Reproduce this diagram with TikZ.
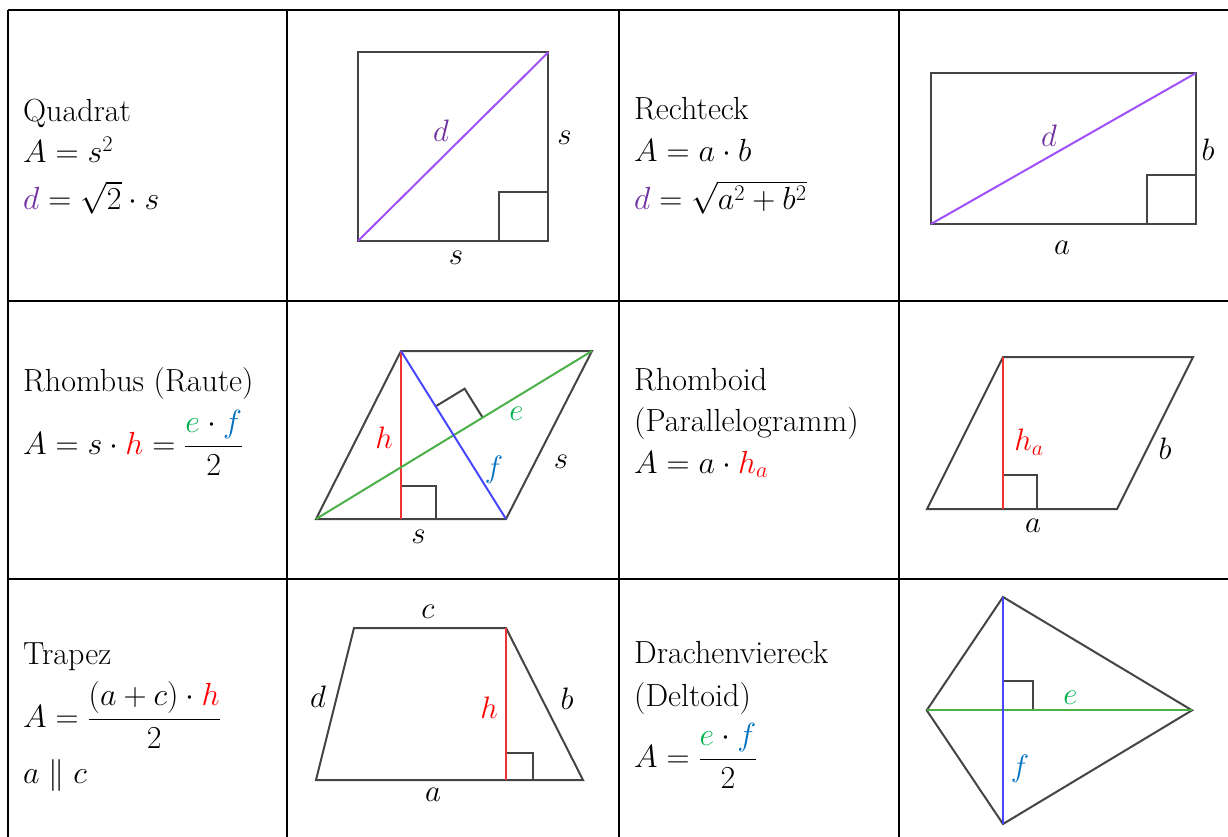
\RequirePackage{fix-cm}
\documentclass[tikz,border=0pt]{standalone}
\usepackage{amsmath}
\definecolor{shp}{RGB}{68,68,68}
\definecolor{purpL}{RGB}{160,80,250}
\definecolor{purpT}{RGB}{112,48,160}
\definecolor{redC}{RGB}{255,0,0}
\definecolor{redL}{RGB}{240,50,50}
\definecolor{grnL}{RGB}{76,176,72}
\definecolor{grnT}{RGB}{0,176,80}
\definecolor{bluL}{RGB}{70,70,255}
\definecolor{bluT}{RGB}{0,112,192}
\tikzset{
  tabline/.style={line width=2.4pt, black},
  shpline/.style={line width=2pt, shp, line join=miter},
  colline/.style={line width=2pt},
  txt/.style={anchor=base west, inner sep=0pt, font=\fontsize{32}{38}\selectfont},
  lbl/.style={inner sep=0pt, font=\fontsize{31}{36}\selectfont},
}
\begin{document}
\begin{tikzpicture}[x=1pt,y=-1pt]
\useasboundingbox (0,0) rectangle (1228,837);
\begin{scope}
\clip (0,0) rectangle (1228,837);
% table grid
\draw[tabline] (8,10) -- (1240,10);
\draw[tabline] (8,301) -- (1240,301);
\draw[tabline] (8,579) -- (1240,579);
\draw[tabline] (8,10) -- (8,850);
\draw[tabline] (287,10) -- (287,850);
\draw[tabline] (619,10) -- (619,850);
\draw[tabline] (899,10) -- (899,850);
\end{scope}

% ---------- Row 1 ----------
\node[txt] (t1a) at (23,121.7) {Quadrat};
\node[txt] (t1b) at (23,163) {$A=s^2$};
\node[txt] (t1c) at (23,210) {${\color{purpT}d}=\sqrt{2}\cdot s$};

\coordinate (qA) at (358.3,240.7);
\coordinate (qB) at (548.3,240.7);
\coordinate (qC) at (548.3,52.3);
\coordinate (qD) at (358.3,52.3);
\draw[shpline] (qA) -- (qB) -- (qC) -- (qD) -- cycle;
\draw[shpline] (499,240.7) rectangle (548.3,192.3);
\draw[colline, purpL] (qA) -- (qC);
\node[lbl] (qd) at (441,131) {$\color{purpT}d$};
\node[lbl] (qs1) at (564.5,138) {$s$};
\node[lbl] (qs2) at (456,258) {$s$};

\node[txt] (t2a) at (634,120) {Rechteck};
\node[txt] (t2b) at (634,162) {$A=a\cdot b$};
\node[txt] (t2c) at (634,210) {${\color{purpT}d}=\sqrt{a^2+b^2}$};

\coordinate (rA) at (931,224);
\coordinate (rB) at (1196,224);
\coordinate (rC) at (1196,73);
\coordinate (rD) at (931,73);
\draw[shpline] (rA) -- (rB) -- (rC) -- (rD) -- cycle;
\draw[shpline] (1147,224) rectangle (1196,175);
\draw[colline, purpL] (rA) -- (rC);
\node[lbl] (rd) at (1049,136) {$\color{purpT}d$};
\node[lbl] (rb) at (1208,150) {$b$};
\node[lbl] (ra) at (1062,248) {$a$};

% ---------- Row 2 ----------
\node[txt] (t3a) at (23,391.7) {Rhombus (Raute)};
\node[txt] (t3b) at (23,454) {$A=s\cdot{\color{redC}h}=\dfrac{{\color{grnT}e}\cdot{\color{bluT}f}}{2}$};

\coordinate (hA) at (316,519);
\coordinate (hB) at (506,519);
\coordinate (hC) at (592,351);
\coordinate (hD) at (401,351);
\coordinate (hF) at (401,519);
\draw[shpline] (hA) -- (hB) -- (hC) -- (hD) -- cycle;
\draw[shpline] (401,486) rectangle (436,519);
\draw[shpline] (435.6,406.4) -- (464.6,388.7) -- (482.6,417.5);
\draw[colline, redL] (hD) -- (hF);
\draw[colline, grnL] (hA) -- (hC);
\draw[colline, bluL] (hD) -- (hB);
\node[lbl] (hh) at (384,438) {$\color{redC}h$};
\node[lbl] (he) at (516.5,414) {$\color{grnT}e$};
\node[lbl] (hf) at (494,470) {$\color{bluT}f$};
\node[lbl] (hs1) at (561,462) {$s$};
\node[lbl] (hs2) at (418.5,537) {$s$};

\node[txt] (t4a) at (634,390) {Rhomboid};
\node[txt] (t4b) at (634,431.5) {(Parallelogramm)};
\node[txt] (t4c) at (634,473) {$A=a\cdot{\color{redC}h_a}$};

\coordinate (pA) at (927,509);
\coordinate (pB) at (1117,509);
\coordinate (pC) at (1193,357);
\coordinate (pD) at (1003,357);
\coordinate (pF) at (1003,509);
\draw[shpline] (pA) -- (pB) -- (pC) -- (pD) -- cycle;
\draw[shpline] (1003,475) rectangle (1037,509);
\draw[colline, redL] (pD) -- (pF);
\node[lbl] (ph) at (1029,442) {$\color{redC}h_a$};
\node[lbl] (pb) at (1165,449) {$b$};
\node[lbl] (pa) at (1033,526) {$a$};

% ---------- Row 3 ----------
\node[txt] (t5a) at (23,664) {Trapez};
\node[txt] (t5b) at (23,727) {$A=\dfrac{(a+c)\cdot{\color{redC}h}}{2}$};
\node[txt] (t5c) at (23,783) {$a\parallel c$};

\coordinate (zA) at (316,780);
\coordinate (zB) at (583,780);
\coordinate (zC) at (506,628);
\coordinate (zD) at (354,628);
\coordinate (zF) at (506,780);
\draw[shpline] (zA) -- (zB) -- (zC) -- (zD) -- cycle;
\draw[shpline] (506,753) rectangle (533,780);
\draw[colline, redL] (zC) -- (zF);
\node[lbl] (zc) at (428,612) {$c$};
\node[lbl] (zd) at (318,697) {$d$};
\node[lbl] (zh) at (489,708) {$\color{redC}h$};
\node[lbl] (zb) at (567,699) {$b$};
\node[lbl] (za) at (433,795) {$a$};

\node[txt] (t6a) at (634,663) {Drachenviereck};
\node[txt] (t6b) at (634,706.5) {(Deltoid)};
\node[txt] (t6c) at (634,767) {$A=\dfrac{{\color{grnT}e}\cdot{\color{bluT}f}}{2}$};

\coordinate (kT) at (1003,597);
\coordinate (kR) at (1192,710.3);
\coordinate (kB) at (1003,824);
\coordinate (kL) at (926.7,710.3);
\draw[shpline] (kT) -- (kR) -- (kB) -- (kL) -- cycle;
\draw[shpline] (1003,681) rectangle (1032.7,710.3);
\draw[colline, grnL] (kL) -- (kR);
\draw[colline, bluL] (kT) -- (kB);
\node[lbl] (ke) at (1070.5,698) {$\color{grnT}e$};
\node[lbl] (kf) at (1020,769) {$\color{bluT}f$};
\end{tikzpicture}
\end{document}
